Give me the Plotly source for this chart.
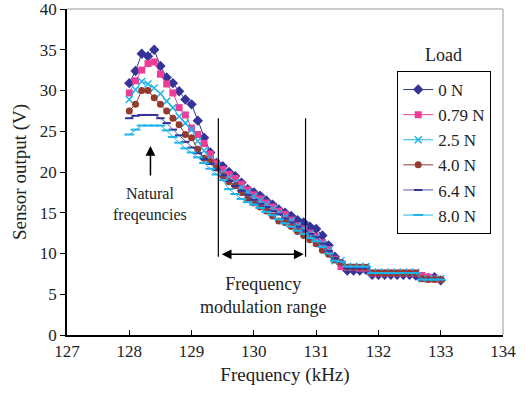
import plotly.graph_objects as go

freq = [round(128.0 + 0.1 * i, 1) for i in range(51)]

load_0 = [30.9, 32.4, 34.5, 34.2, 35.0, 33.0, 31.6, 30.9, 29.9, 28.9,
          28.3, 26.3, 24.2, 22.4, 21.1, 20.7, 20.0, 19.5, 18.7, 17.9,
          17.5, 17.1, 16.5, 16.0, 15.4, 15.0, 14.6, 14.1, 13.8, 13.3,
          13.0, 12.2, 11.0, 9.6, 8.7, 7.9, 7.9, 7.9, 8.0, 7.4,
          7.4, 7.4, 7.4, 7.4, 7.4, 7.4, 7.3, 7.1, 7.0, 7.1, 6.7]
load_079 = [29.7, 31.2, 32.5, 33.3, 33.5, 32.0, 30.8, 29.7, 27.9, 27.0,
            25.4, 24.6, 23.5, 22.2, 21.1, 20.3, 19.7, 19.2, 18.5, 17.8,
            17.2, 16.7, 16.2, 15.7, 15.2, 14.8, 14.1, 13.4, 13.0, 12.5,
            12.1, 11.3, 10.5, 9.3, 8.4, 8.3, 8.3, 8.2, 8.2, 7.6,
            7.6, 7.6, 7.6, 7.6, 7.6, 7.6, 7.6, 7.3, 7.1, 6.9, 6.8]
load_25 = [28.9, 30.1, 31.1, 30.8, 30.3, 29.6, 28.7, 27.9, 26.8, 26.0,
           25.2, 23.8, 22.6, 21.6, 20.7, 19.9, 19.3, 18.7, 18.1, 17.5,
           17.0, 16.5, 16.0, 15.5, 15.0, 14.5, 14.0, 13.4, 13.0, 12.4,
           12.0, 11.2, 10.4, 9.1, 9.1, 8.4, 8.4, 8.4, 8.4, 7.7,
           7.7, 7.7, 7.7, 7.7, 7.7, 7.7, 7.7, 6.9, 6.9, 6.9, 6.9]
load_40 = [27.5, 28.3, 30.0, 30.0, 29.1, 28.3, 27.5, 26.6, 25.8, 24.6,
           24.2, 22.8, 21.7, 21.3, 20.5, 19.5, 18.8, 18.3, 17.5, 16.7,
           16.2, 15.7, 15.2, 14.6, 14.0, 13.8, 13.3, 12.7, 12.2, 11.7,
           11.2, 10.4, 9.9, 9.2, 8.9, 8.3, 8.3, 8.3, 8.3, 7.6,
           7.6, 7.6, 7.6, 7.6, 7.6, 7.6, 7.6, 6.9, 6.8, 6.8, 6.8]
load_64 = [26.6, 26.9, 27.0, 27.0, 27.0, 26.6, 26.0, 25.2, 24.5, 23.7,
           23.0, 22.3, 21.6, 21.0, 20.3, 19.6, 18.9, 18.3, 17.7, 17.2,
           16.6, 16.1, 15.7, 15.2, 14.8, 14.3, 13.8, 13.3, 12.8, 12.4,
           12.0, 11.2, 10.3, 9.4, 9.0, 8.2, 8.2, 8.2, 8.2, 7.6,
           7.6, 7.6, 7.6, 7.6, 7.6, 7.6, 7.6, 6.8, 6.8, 6.8, 6.8]
load_80 = [24.6, 25.2, 25.7, 25.7, 25.7, 25.7, 25.1, 24.3, 23.6, 22.9,
           22.4, 21.8, 21.1, 20.4, 19.7, 19.0, 17.9, 17.3, 16.7, 16.3,
           16.0, 15.6, 15.1, 14.7, 14.2, 13.7, 13.3, 12.8, 12.4, 11.9,
           11.5, 10.8, 10.0, 9.1, 9.0, 8.4, 8.4, 8.4, 8.4, 7.6,
           7.6, 7.6, 7.6, 7.6, 7.6, 7.6, 7.6, 6.8, 6.8, 6.8, 6.8]

series_names = ["0 N", "0.79 N", "2.5 N", "4.0 N", "6.4 N", "8.0 N"]
series_values = [load_0, load_079, load_25, load_40, load_64, load_80]
y_ticks = [0, 5, 10, 15, 20, 25, 30, 35, 40]
x_ticks = [127, 128, 129, 130, 131, 132, 133, 134]

line_colors = ["#333399", "#EE3D96", "#1EB4EA", "#963A2E", "#5A5AAA", "#1EB4EA"]
marker_colors = ["#333399", "#EE3D96", "#1EB4EA", "#963A2E", "#333399", "#1EB4EA"]
symbols = ["diamond", "square", "x-thin", "circle", "line-ew", "line-ew"]
sizes = [8, 7, 7, 7, 6, 7]

font_family = "Liberation Serif, Times New Roman, serif"

TOP = 9
H = 335 - TOP

fig = go.Figure()
for i, (name, vals) in enumerate(zip(series_names, series_values)):
    sym = symbols[i]
    mk = dict(symbol=sym, size=sizes[i], color=marker_colors[i])
    if sym in ("line-ew", "x-thin"):
        mk["line"] = dict(color=marker_colors[i], width=2 if sym == "line-ew" else 1.5)
    else:
        mk["line"] = dict(width=0)
    fig.add_trace(go.Scatter(
        x=freq, y=vals, name=name, mode="lines+markers",
        line=dict(color=line_colors[i], width=1),
        marker=mk,
    ))

# Frequency modulation range markers
mod_lo, mod_hi = 129.43, 130.83
for xv in (mod_lo, mod_hi):
    fig.add_shape(type="line", x0=xv, x1=xv, y0=9.6, y1=26.6,
                  xref="x", yref="y", line=dict(color="black", width=1.2))

fig.add_annotation(x=mod_hi - 0.03, y=9.9, ax=mod_lo + 0.03, ay=9.9,
                   xref="x", yref="y", axref="x", ayref="y",
                   text="", showarrow=True, arrowhead=2, arrowsize=1.3,
                   arrowwidth=1.5, arrowcolor="black", startarrowhead=2,
                   arrowside="end+start", startarrowsize=1.3)
fig.add_annotation(x=130.15, y=4.8, xref="x", yref="y",
                   text="Frequency<br>modulation range", showarrow=False,
                   font=dict(family=font_family, size=18, color="#222"),
                   align="center")

# Natural frequencies
fig.add_annotation(x=128.34, y=23.2, ax=128.34, ay=19.4,
                   xref="x", yref="y", axref="x", ayref="y",
                   text="", showarrow=True, arrowhead=2, arrowsize=1.3,
                   arrowwidth=1.5, arrowcolor="black")
fig.add_annotation(x=128.34, y=16.0, xref="x", yref="y",
                   text="Natural<br>freqeuncies", showarrow=False,
                   font=dict(family=font_family, size=16, color="#222"),
                   align="center")

# Legend title
fig.add_annotation(x=(448 - 67) / 441, y=(335 - 55) / H,
                   xref="paper", yref="paper", xanchor="center", yanchor="middle",
                   showarrow=False, text="Load",
                   font=dict(family=font_family, size=18, color="#222"))

# grey top/right frame
fig.add_shape(type="line", xref="paper", yref="paper", x0=0, x1=1, y0=1, y1=1,
              line=dict(color="#B8BCC0", width=1.5))
fig.add_shape(type="line", xref="paper", yref="paper", x0=1, x1=1, y0=0, y1=1,
              line=dict(color="#B8BCC0", width=1.5))

fig.update_layout(
    width=525, height=398,
    margin=dict(l=67, r=17, t=TOP, b=63),
    paper_bgcolor="white", plot_bgcolor="white",
    font=dict(family=font_family, size=17, color="#222"),
    showlegend=True,
    legend=dict(x=(401 - 67) / 441, y=(335 - 71) / H, xanchor="left", yanchor="top",
                bordercolor="black", borderwidth=1, bgcolor="white",
                font=dict(family=font_family, size=17, color="#222"),
                tracegroupgap=0, itemwidth=30),
    xaxis=dict(range=[127, 134], tickmode="array", tickvals=x_ticks,
               showgrid=False, zeroline=False, ticklabeloverflow="allow",
               showline=True, linecolor="black", linewidth=1.5,
               ticks="inside", ticklen=5, tickcolor="black",
               title=dict(text="Frequency (kHz)", font=dict(size=19), standoff=8)),
    yaxis=dict(range=[0, 40], tickmode="array", tickvals=y_ticks,
               showgrid=False, zeroline=False, ticklabeloverflow="allow",
               showline=True, linecolor="black", linewidth=1.5,
               ticks="outside", ticklen=5, tickcolor="black", automargin=False,
               title=dict(text="Sensor output (V)", font=dict(size=19), standoff=8)),
)

fig.write_html("out.html")
